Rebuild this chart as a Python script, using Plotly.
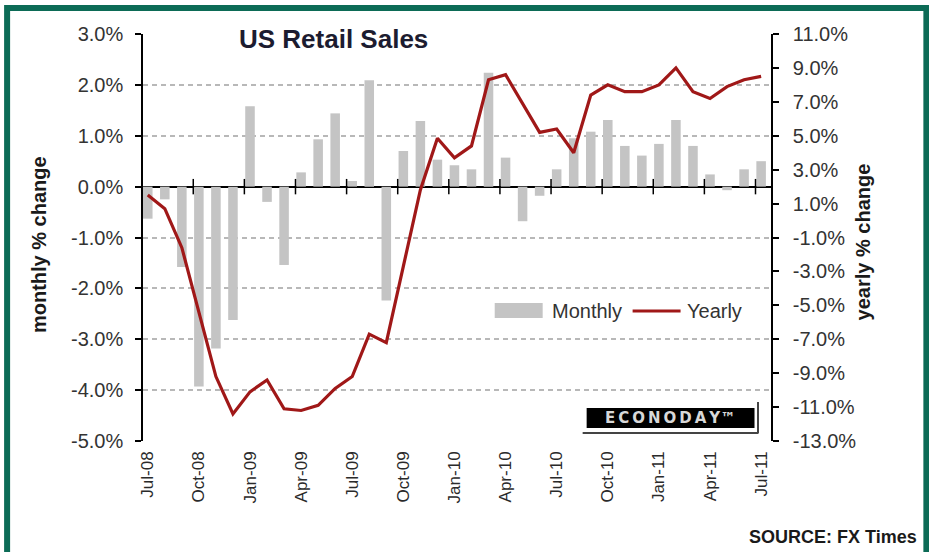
import plotly.graph_objects as go

# ---------------- data ----------------
months = ["Jul-08", "Aug-08", "Sep-08", "Oct-08", "Nov-08", "Dec-08",
          "Jan-09", "Feb-09", "Mar-09", "Apr-09", "May-09", "Jun-09",
          "Jul-09", "Aug-09", "Sep-09", "Oct-09", "Nov-09", "Dec-09",
          "Jan-10", "Feb-10", "Mar-10", "Apr-10", "May-10", "Jun-10",
          "Jul-10", "Aug-10", "Sep-10", "Oct-10", "Nov-10", "Dec-10",
          "Jan-11", "Feb-11", "Mar-11", "Apr-11", "May-11", "Jun-11",
          "Jul-11"]

monthly = [-0.63, -0.25, -1.58, -3.93, -3.18, -2.62,
           1.58, -0.30, -1.54, 0.28, 0.93, 1.44,
           0.11, 2.09, -2.24, 0.70, 1.29, 0.53,
           0.42, 0.34, 2.24, 0.57, -0.68, -0.18,
           0.34, 0.95, 1.08, 1.31, 0.80, 0.61,
           0.84, 1.31, 0.80, 0.24, -0.07, 0.34,
           0.50]

yearly = [1.5, 0.7, -1.6, -5.4, -9.2, -11.4,
          -10.1, -9.4, -11.1, -11.2, -10.9, -9.9,
          -9.2, -6.7, -7.2, -2.7, 1.8, 4.85,
          3.7, 4.4, 8.3, 8.6, 6.9, 5.2,
          5.4, 4.0, 7.4, 8.0, 7.6, 7.6,
          8.0, 9.0, 7.6, 7.2, 7.9, 8.3,
          8.5]

x_tick_labels = ["Jul-08", "Oct-08", "Jan-09", "Apr-09", "Jul-09", "Oct-09",
                 "Jan-10", "Apr-10", "Jul-10", "Oct-10", "Jan-11", "Apr-11",
                 "Jul-11"]

left_ticks = [3, 2, 1, 0, -1, -2, -3, -4, -5]
left_tick_text = ["3.0%", "2.0%", "1.0%", "0.0%", "-1.0%", "-2.0%",
                  "-3.0%", "-4.0%", "-5.0%"]
right_ticks = [11, 9, 7, 5, 3, 1, -1, -3, -5, -7, -9, -11, -13]
right_tick_text = ["11.0%", "9.0%", "7.0%", "5.0%", "3.0%", "1.0%", "-1.0%",
                   "-3.0%", "-5.0%", "-7.0%", "-9.0%", "-11.0%", "-13.0%"]

# ---------------- layout helpers ----------------
W, H = 929, 552
PL, PR, PT, PB = 143, 771.5, 34, 441   # plot area in pixels


def xp(px):
    return (px - PL) / (PR - PL)


def yp(py):
    return (PB - py) / (PB - PT)


idx = list(range(len(months)))
tick_idx = [months.index(m) for m in x_tick_labels]
cross_ticks = [i - 0.33 for i in tick_idx]

FONT = "Arial, Liberation Sans, sans-serif"
TXT = "#2a2a2a"

fig = go.Figure()

fig.add_trace(go.Bar(
    x=idx, y=monthly, name="Monthly",
    marker=dict(color="#c4c4c4", line=dict(width=0)),
    yaxis="y", hoverinfo="skip",
))

# crossing tick marks on the zero-level category axis
fig.add_trace(go.Scatter(
    x=cross_ticks, y=[0] * len(cross_ticks), mode="markers",
    marker=dict(symbol="line-ns", size=11,
                line=dict(color="black", width=1.5)),
    yaxis="y", hoverinfo="skip", showlegend=False,
))

fig.add_trace(go.Scatter(
    x=idx, y=yearly, name="Yearly", mode="lines",
    line=dict(color="#a01818", width=3.2),
    yaxis="y2", hoverinfo="skip",
))

fig.update_layout(
    width=W, height=H,
    margin=dict(l=PL, r=W - PR, t=PT, b=H - PB, pad=0),
    paper_bgcolor="white", plot_bgcolor="white",
    showlegend=False,
    bargap=0.44,
    font=dict(family=FONT, color=TXT),
    xaxis=dict(
        range=[-0.28, 36.58],
        tickvals=tick_idx, ticktext=x_tick_labels,
        tickangle=-90, tickfont=dict(size=17, color=TXT),
        showgrid=False, zeroline=False, showline=False, ticks="",
        ticklabelstandoff=6,
    ),
    yaxis=dict(
        range=[-5, 3], tickvals=left_ticks, ticktext=left_tick_text,
        tickfont=dict(size=20, color="#333333"),
        showgrid=True, gridcolor="#b8b8b8", gridwidth=1.5, griddash="5px,4px",
        zeroline=True, zerolinecolor="black", zerolinewidth=1.5,
        showline=True, linecolor="black", linewidth=1.5,
        ticks="outside", ticklen=6, tickcolor="black", tickwidth=1.5,
        ticklabelstandoff=8,
    ),
    yaxis2=dict(
        range=[-13, 11], tickvals=right_ticks, ticktext=right_tick_text,
        overlaying="y", side="right",
        tickfont=dict(size=20, color="#333333"),
        showgrid=False, zeroline=False,
        showline=True, linecolor="black", linewidth=1.5,
        ticks="outside", ticklen=6, tickcolor="black", tickwidth=1.5,
        ticklabelstandoff=10,
    ),
)

shapes = []
# green frame
shapes.append(dict(
    type="path", xref="paper", yref="paper",
    path=f"M {xp(7)},{yp(560)} L {xp(7)},{yp(8)} L {xp(927)},{yp(8)} L {xp(927)},{yp(560)}",
    line=dict(color="#0c6b56", width=6), layer="above",
))
# legend swatches
shapes.append(dict(type="rect", xref="paper", yref="paper",
                   x0=xp(495), x1=xp(543), y0=yp(318), y1=yp(303),
                   fillcolor="#c4c4c4", line=dict(width=0)))
shapes.append(dict(type="line", xref="paper", yref="paper",
                   x0=xp(633), x1=xp(681), y0=yp(311), y1=yp(311),
                   line=dict(color="#a01818", width=3)))
# Econoday logo box
shapes.append(dict(type="rect", xref="paper", yref="paper",
                   x0=xp(587), x1=xp(755), y0=yp(428), y1=yp(408),
                   fillcolor="black", line=dict(width=0), layer="above"))
shapes.append(dict(type="line", xref="paper", yref="paper",
                   x0=xp(583), x1=xp(759), y0=yp(433), y1=yp(433),
                   line=dict(color="#444444", width=2), layer="above"))
shapes.append(dict(type="line", xref="paper", yref="paper",
                   x0=xp(758.5), x1=xp(758.5), y0=yp(433), y1=yp(402),
                   line=dict(color="#444444", width=2), layer="above"))
fig.update_layout(shapes=shapes)

ann = []
ann.append(dict(text="<b>US Retail Sales</b>", xref="paper", yref="paper",
                x=xp(334), y=yp(39), xanchor="center", yanchor="middle",
                showarrow=False, font=dict(size=26, color="#1c1c30", family=FONT),
                bgcolor="white", borderpad=2))
ann.append(dict(text="<b>monthly % change</b>", xref="paper", yref="paper",
                x=xp(39), y=yp(245), xanchor="center", yanchor="middle",
                textangle=-90, showarrow=False,
                font=dict(size=20, color="#1a1a1a", family=FONT)))
ann.append(dict(text="<b>yearly % change</b>", xref="paper", yref="paper",
                x=xp(864), y=yp(242), xanchor="center", yanchor="middle",
                textangle=-90, showarrow=False,
                font=dict(size=20, color="#1a1a1a", family=FONT)))
ann.append(dict(text="Monthly", xref="paper", yref="paper",
                x=xp(550), y=yp(311), xanchor="left", yanchor="middle",
                showarrow=False, font=dict(size=20, color="#333333", family=FONT)))
ann.append(dict(text="Yearly", xref="paper", yref="paper",
                x=xp(685), y=yp(311), xanchor="left", yanchor="middle",
                showarrow=False, font=dict(size=20, color="#333333", family=FONT)))
ann.append(dict(text="<b>E\u2009C\u2009O\u2009N\u2009O\u2009D\u2009A\u2009Y\u2122</b>",
                xref="paper", yref="paper",
                x=xp(670), y=yp(418), xanchor="center", yanchor="middle",
                showarrow=False,
                font=dict(size=15, color="#d8d8d8", family="DejaVu Sans, sans-serif")))
ann.append(dict(text="<b>SOURCE: FX Times</b>", xref="paper", yref="paper",
                x=xp(920), y=yp(537), xanchor="right", yanchor="middle",
                showarrow=False,
                font=dict(size=18, color="#1a1a1a",
                          family="Liberation Sans Narrow, Arial Narrow, Arial, sans-serif")))
fig.update_layout(annotations=ann)

fig.write_html("out.html")
